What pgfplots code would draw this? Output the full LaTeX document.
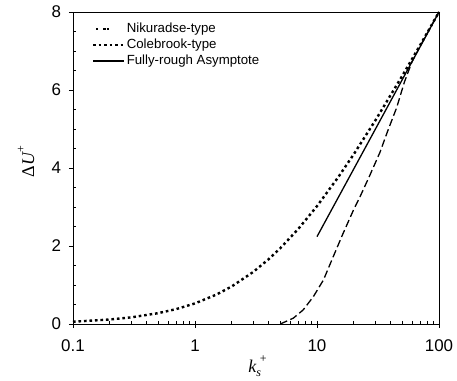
\documentclass[border=0pt]{standalone}
\usepackage{fontspec}
\setmainfont{Liberation Sans}
\newfontfamily\timesf{Liberation Serif}
\usepackage{pgfplots}
\pgfplotsset{compat=1.18}
\begin{document}
\begin{tikzpicture}
\begin{axis}[
  scale only axis, width=366bp, height=312bp, clip=false,
  xmode=log, xmin=0.1, xmax=100, ymin=0, ymax=8,
  xtick={0.1,1,10,100}, xticklabels={0.1,1,10,100},
  ytick={0,2,4,6,8}, minor y tick num=3,
  tick pos=left, tick align=outside,
  major tick length=4bp, minor tick length=-3bp,
  axis line style={line width=0.8bp},
  every tick/.style={line width=0.8bp, black},
  /pgf/number format/assume math mode=true,
  ticklabel style={font=\fontsize{17}{19}\selectfont},
  xticklabel style={yshift=-8.5bp},
  yticklabel style={xshift=-4.5bp},
  xlabel={{\timesf\itshape k}\rlap{\raisebox{-0.35ex}{\fontsize{12}{13}\selectfont\timesf\itshape s}}\raisebox{1.1ex}{\hspace{3.5bp}\fontsize{12}{13}\selectfont\timesf +}},
  every axis x label/.style={font=\fontsize{18}{20}\selectfont, at={(rel axis cs:0.504,-0.135)}, anchor=center},
  legend cell align=left,
  legend image code/.code={\draw[#1] (0bp,0bp) -- (31bp,0bp);},
  legend style={at={(rel axis cs:0.051,0.972)}, anchor=north west, draw=none, fill=none,
    font=\fontsize{13.3}{15}\selectfont, row sep=0pt, inner sep=0pt,
    nodes={inner sep=1.5bp, text height=10bp, text depth=3bp}},
]
\coordinate (ll) at (rel axis cs:0,0);
\coordinate (ur) at (rel axis cs:1,1);
\node[rotate=90, anchor=center, font=\fontsize{18}{20}\selectfont] at (rel axis cs:-0.128,0.52)
  {{\timesf Δ\itshape U}\raisebox{1.0ex}{\fontsize{12}{13}\selectfont\timesf +}};
% Nikuradse-type
\addplot[black, line width=1.3bp, dash pattern=on 7.5bp off 3.5bp,
  legend image code/.code={\draw[black, line width=1.2bp] (3bp,0bp) -- (5bp,0bp) (10bp,0bp) -- (12.5bp,0bp) (13.5bp,0bp) -- (16bp,0bp);}]
  coordinates {(5,0) (6.4,0.15) (7.7,0.36) (9.33,0.70) (11.3,1.13) (13.6,1.73) (16.4,2.33) (19.9,2.92) (22.5,3.26) (27,3.8) (32.8,4.4) (38,4.95) (45,5.55) (52,6.2) (60,6.72) (70,7.12) (85,7.6) (100,8)};
\addlegendentry{Nikuradse-type}
% Colebrook-type
\addplot[black, line width=2.4bp, dash pattern=on 2.6bp off 2.9bp]
  coordinates {(0.1,0.058) (0.2,0.115) (0.3,0.170) (0.5,0.278) (0.7,0.381) (1,0.528) (1.5,0.755) (2,0.963) (3,1.334) (4,1.657) (5,1.943) (7,2.432) (10,3.022) (15,3.774) (20,4.351) (30,5.214) (50,6.364) (70,7.149) (100,8.0)};
\addlegendentry{Colebrook-type}
% Fully-rough asymptote
\addplot[black, line width=1.3bp] coordinates {(10,2.24) (100,8.0)};
\addlegendentry{Fully-rough Asymptote}
\end{axis}
\pgfresetboundingbox
\path ([shift={(-73bp,-57bp)}]ll) rectangle ([shift={(18bp,12bp)}]ur);
\end{tikzpicture}
\end{document}
